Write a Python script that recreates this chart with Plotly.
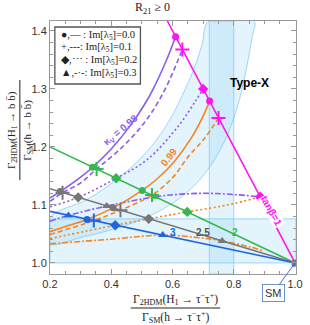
import plotly.graph_objects as go

# ---------------- data ----------------
X_RANGE = [0.2, 1.003]
Y_RANGE = [0.981, 1.417]

# tan(beta) straight lines (end points)
tb1_x = [0.583, 1.0]; tb1_y = [1.417, 1.0]
tb2_x = [0.2, 1.0];   tb2_y = [1.200, 1.0]
tb25_x = [0.2, 1.0];  tb25_y = [1.128, 1.0]
tb3_x = [0.2, 1.0];   tb3_y = [1.089, 1.0]

# kappa_V = 0.98 curves (purple)
k98_im0_x = [0.200, 0.233, 0.300, 0.339, 0.399, 0.464, 0.506, 0.535, 0.579, 0.610]
k98_im0_y = [1.112, 1.123, 1.148, 1.165, 1.196, 1.238, 1.271, 1.298, 1.348, 1.390]
k98_im1_x = [0.200, 0.241, 0.300, 0.352, 0.420, 0.480, 0.530, 0.581, 0.632]
k98_im1_y = [1.106, 1.121, 1.138, 1.162, 1.192, 1.224, 1.258, 1.305, 1.368]
k98_im2_x = [0.200, 0.292, 0.416, 0.517, 0.622, 0.676, 0.700]
k98_im2_y = [1.097, 1.113, 1.146, 1.178, 1.238, 1.280, 1.300]
k98_im3_x = [0.200, 0.260, 0.385, 0.543, 0.640, 0.720, 0.800, 0.886]
k98_im3_y = [1.072, 1.082, 1.098, 1.114, 1.119, 1.120, 1.118, 1.114]

# kappa_V = 0.99 curves (orange)
k99_im0_x = [0.200, 0.246, 0.321, 0.406, 0.501, 0.552, 0.606, 0.662, 0.697, 0.721]
k99_im0_y = [1.054, 1.062, 1.075, 1.095, 1.125, 1.146, 1.175, 1.216, 1.250, 1.279]
k99_im1_x = [0.200, 0.343, 0.430, 0.533, 0.600, 0.654, 0.705, 0.750]
k99_im1_y = [1.049, 1.073, 1.091, 1.117, 1.147, 1.185, 1.215, 1.250]
k99_im2_x = [0.200, 0.413, 0.522, 0.648, 0.780, 0.886]
k99_im2_y = [1.042, 1.065, 1.076, 1.088, 1.100, 1.114]
k99_im3_x = [0.200, 0.400, 0.568, 0.680, 0.762, 0.850, 0.895]
k99_im3_y = [1.033, 1.041, 1.048, 1.044, 1.038, 1.028, 1.021]

# markers on the tan(beta) lines, per Im[lambda5]
m_tb1 = {"0.0": ([0.610, 0.721], [1.390, 1.279]), "0.1": ([0.632, 0.750], [1.368, 1.250]),
         "0.2": ([0.700, 0.886], [1.300, 1.114]), "0.3": ([0.886], [1.114])}
m_tb2 = {"0.0": ([0.339, 0.501], [1.165, 1.125]), "0.1": ([0.352, 0.533], [1.162, 1.117]),
         "0.2": ([0.416, 0.648], [1.146, 1.088]), "0.3": ([0.543], [1.114])}
m_tb25 = {"0.0": ([0.233, 0.406], [1.123, 1.095]), "0.1": ([0.241, 0.430], [1.121, 1.091]),
          "0.2": ([0.292, 0.522], [1.113, 1.076]), "0.3": ([0.385, 0.762], [1.098, 1.038])}
m_tb3 = {"0.0": ([0.321], [1.075]), "0.1": ([0.343], [1.073]),
         "0.2": ([0.413], [1.065]), "0.3": ([0.260, 0.568], [1.082, 1.048])}
sm_x = [1.0]; sm_y = [1.0]

# shaded bands
band_v_x = [0.72, 0.80]
band_h_y = [1.0, 1.076]
band_in_x = [0.200, 0.319, 0.421, 0.513, 0.588, 0.668, 0.696, 0.718]
band_in_y = [1.078, 1.109, 1.145, 1.190, 1.244, 1.332, 1.376, 1.417]
band_out_x = [0.866, 0.860, 0.819, 0.779, 0.721, 0.648, 0.545, 0.436, 0.301, 0.200]
band_out_y = [1.417, 1.390, 1.283, 1.221, 1.165, 1.122, 1.086, 1.063, 1.044, 1.033]

# ---------------- styling ----------------
PURPLE = "#8a5cf0"
ORANGE = "#f5841f"
MAGENTA = "#ff14f0"
GREEN = "#33b84f"
GRAY = "#777777"
BLUE = "#1f66e0"
BFILL = "rgba(120,200,245,0.20)"
BEDGE = "rgba(110,195,240,0.65)"
SERIF = "Liberation Serif"
SANS = "Liberation Sans"

DASH = {"0.0": "solid", "0.1": "5px,3px", "0.2": "2px,2.5px", "0.3": "6px,2px,2px,2px"}
SYM = {"0.0": "circle", "0.1": "cross-thin", "0.2": "diamond", "0.3": "triangle-up"}
SIZE = {"0.0": 7, "0.1": 10, "0.2": 8, "0.3": 8}

fig = go.Figure()

# bands
fig.add_trace(go.Scatter(x=[band_v_x[0], band_v_x[1], band_v_x[1], band_v_x[0], band_v_x[0]],
                         y=[Y_RANGE[0], Y_RANGE[0], Y_RANGE[1], Y_RANGE[1], Y_RANGE[0]],
                         fill="toself", fillcolor=BFILL, mode="lines",
                         line=dict(color=BEDGE, width=1), hoverinfo="skip"))
fig.add_trace(go.Scatter(x=[X_RANGE[0], X_RANGE[1], X_RANGE[1], X_RANGE[0], X_RANGE[0]],
                         y=[band_h_y[0], band_h_y[0], band_h_y[1], band_h_y[1], band_h_y[0]],
                         fill="toself", fillcolor=BFILL, mode="lines",
                         line=dict(color=BEDGE, width=1), hoverinfo="skip"))
fig.add_trace(go.Scatter(x=band_in_x + band_out_x + [band_in_x[0]],
                         y=band_in_y + band_out_y + [band_in_y[0]],
                         fill="toself", fillcolor=BFILL, mode="lines", line_shape="spline",
                         line=dict(color=BEDGE, width=1), hoverinfo="skip"))

# kappa curves
for xs, ys, col, im in [
    (k98_im0_x, k98_im0_y, PURPLE, "0.0"), (k98_im1_x, k98_im1_y, PURPLE, "0.1"),
    (k98_im2_x, k98_im2_y, PURPLE, "0.2"), (k98_im3_x, k98_im3_y, PURPLE, "0.3"),
    (k99_im0_x, k99_im0_y, ORANGE, "0.0"), (k99_im1_x, k99_im1_y, ORANGE, "0.1"),
    (k99_im2_x, k99_im2_y, ORANGE, "0.2"), (k99_im3_x, k99_im3_y, ORANGE, "0.3")]:
    fig.add_trace(go.Scatter(x=xs, y=ys, mode="lines", line_shape="spline",
                             line=dict(color=col, width=1.6, dash=DASH[im]), hoverinfo="skip"))

# tan beta lines
for xs, ys, col in [(tb1_x, tb1_y, MAGENTA), (tb2_x, tb2_y, GREEN),
                    (tb25_x, tb25_y, GRAY), (tb3_x, tb3_y, BLUE)]:
    fig.add_trace(go.Scatter(x=xs, y=ys, mode="lines", line=dict(color=col, width=1.6),
                             hoverinfo="skip"))

# markers
for mset, col in [(m_tb1, MAGENTA), (m_tb2, GREEN), (m_tb25, GRAY), (m_tb3, BLUE)]:
    for im, (xs, ys) in mset.items():
        fig.add_trace(go.Scatter(x=xs, y=ys, mode="markers", hoverinfo="skip",
                                 marker=dict(symbol=SYM[im], size=SIZE[im], color=col,
                                             line=dict(color=col, width=2 if im == "0.1" else 0))))
fig.add_trace(go.Scatter(x=sm_x, y=sm_y, mode="markers", hoverinfo="skip",
                         marker=dict(symbol="circle", size=7, color=GRAY)))

# helpers: pixel position -> paper coordinates (plot area is 50..303 x 21..274)
def px(pxv):
    return (pxv - 50) / 253.0

def py(pyv):
    return (274 - pyv) / 253.0

ann = []
# labels in plot
ann.append(dict(x=0.432, y=1.229, xref="x", yref="y", text="<b>κ<sub>V</sub> = 0.98</b>",
                showarrow=False, textangle=-40, font=dict(family=SANS, size=10, color=PURPLE)))
ann.append(dict(x=0.590, y=1.183, xref="x", yref="y", text="<b>0.99</b>",
                showarrow=False, textangle=-52, font=dict(family=SANS, size=10, color=ORANGE)))
ann.append(dict(x=0.922, y=1.090, xref="x", yref="y", text="<b>tanβ=1</b>",
                showarrow=False, textangle=61, bgcolor="white", borderpad=0,
                font=dict(family=SANS, size=10, color=MAGENTA)))
ann.append(dict(x=0.803, y=1.053, xref="x", yref="y", text="<b>2</b>", showarrow=False,
                font=dict(family=SANS, size=10, color=GREEN)))
ann.append(dict(x=0.700, y=1.053, xref="x", yref="y", text="<b>2.5</b>", showarrow=False,
                font=dict(family=SANS, size=10, color="#555555")))
ann.append(dict(x=0.603, y=1.053, xref="x", yref="y", text="<b>3</b>", showarrow=False,
                font=dict(family=SANS, size=10, color=BLUE)))
ann.append(dict(x=0.851, y=1.310, xref="x", yref="y", text="<b>Type-X</b>", showarrow=False,
                font=dict(family=SANS, size=12, color="black")))
# SM callout
ann.append(dict(x=1.0, y=1.0, xref="x", yref="y", ax=-22, ay=30, text="SM",
                showarrow=True, arrowhead=2, arrowsize=0.8, arrowwidth=1, arrowcolor="#4a74c0",
                bordercolor="#6f90c8", borderwidth=1, borderpad=2, bgcolor="white",
                font=dict(family=SANS, size=11, color="#333333")))
# title
ann.append(dict(x=px(155), y=py(8), xref="paper", yref="paper", xanchor="center", yanchor="middle",
                text="R<sub>21</sub> ≥ 0", showarrow=False,
                font=dict(family=SERIF, size=12, color="#222222")))

# legend box
legend_rows = ["●,— : Im[λ<sub>5</sub>]=0.0", "+,---: Im[λ<sub>5</sub>]=0.1",
               "◆,⋯ : Im[λ<sub>5</sub>]=0.2", "▲,-·-: Im[λ<sub>5</sub>]=0.3"]
for i, r in enumerate(legend_rows):
    ann.append(dict(x=px(59), y=py(35 + i * 12.7), xref="paper", yref="paper", xanchor="left",
                    yanchor="middle", text=r, showarrow=False,
                    font=dict(family=SERIF, size=10.5, color="#222222")))

# axis titles (fractions)
ann.append(dict(x=px(179), y=py(299), xref="paper", yref="paper", showarrow=False,
                xanchor="center", yanchor="middle",
                text="Γ<sub>2HDM</sub>(H<sub>1</sub> → τ<sup>−</sup>τ<sup>+</sup>)",
                font=dict(family=SERIF, size=11.5, color="#222222")))
ann.append(dict(x=px(179), y=py(317), xref="paper", yref="paper", showarrow=False,
                xanchor="center", yanchor="middle",
                text="Γ<sub>SM</sub>(h → τ<sup>−</sup>τ<sup>+</sup>)",
                font=dict(family=SERIF, size=11.5, color="#222222")))
ann.append(dict(x=px(11), y=py(130), xref="paper", yref="paper", showarrow=False, textangle=-90,
                xanchor="center", yanchor="middle",
                text="Γ<sub>2HDM</sub>(H<sub>1</sub> → b b̄)",
                font=dict(family=SERIF, size=11, color="#222222")))
ann.append(dict(x=px(27), y=py(130), xref="paper", yref="paper", showarrow=False, textangle=-90,
                xanchor="center", yanchor="middle",
                text="Γ<sub>SM</sub>(h → b b̄)",
                font=dict(family=SERIF, size=11, color="#222222")))

shapes = [
    dict(type="rect", xref="paper", yref="paper", x0=px(55), x1=px(143), y0=py(27), y1=py(84),
         line=dict(color="#555555", width=1.3), fillcolor="white", layer="above"),
    dict(type="line", xref="paper", yref="paper", x0=px(133), x1=px(225), y0=py(308), y1=py(308),
         line=dict(color="#222222", width=1)),
    dict(type="line", xref="paper", yref="paper", x0=px(19), x1=px(19), y0=py(80), y1=py(180),
         line=dict(color="#222222", width=1)),
]

axis_common = dict(showgrid=False, zeroline=False, showline=True, linecolor="#999999",
                   linewidth=1, mirror="ticks", ticks="inside", ticklen=5, tickcolor="#999999",
                   tickfont=dict(family=SANS, size=11, color="#333333"))
fig.update_layout(
    width=310, height=325, margin=dict(l=50, r=7, t=21, b=51),
    paper_bgcolor="white", plot_bgcolor="white", showlegend=False,
    xaxis=dict(range=X_RANGE, tickvals=[0.2, 0.4, 0.6, 0.8, 1.0], ticktext=["0.2", "0.4", "0.6", "0.8", "1.0"],
               minor=dict(ticks="inside", ticklen=3, dtick=0.05, tick0=0.2, tickcolor="#999999"),
               **axis_common),
    yaxis=dict(range=Y_RANGE, tickvals=[1.0, 1.1, 1.2, 1.3, 1.4], ticktext=["1.0", "1.1", "1.2", "1.3", "1.4"],
               minor=dict(ticks="inside", ticklen=3, dtick=0.02, tick0=1.0, tickcolor="#999999"),
               **axis_common),
    annotations=ann, shapes=shapes,
)

fig.write_html("out.html", config={"displayModeBar": False, "staticPlot": True},
               post_script="document.body.style.margin='0';document.body.style.overflow='hidden';")
